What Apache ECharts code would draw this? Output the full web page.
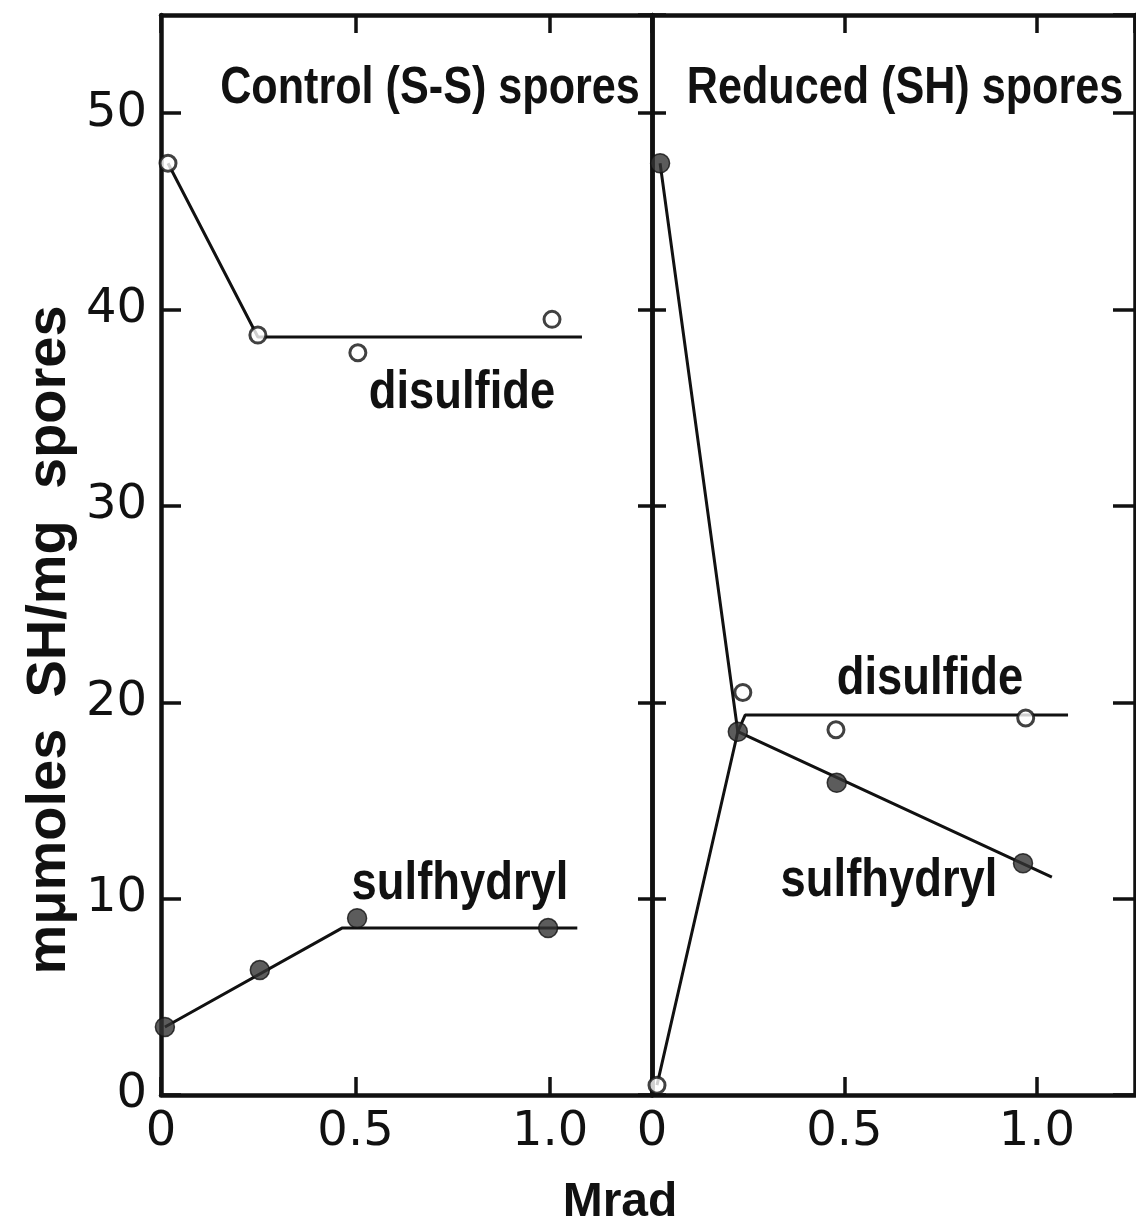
<!DOCTYPE html>
<html>
<head>
<meta charset="utf-8">
<script src="https://cdn.jsdelivr.net/npm/echarts@6/dist/echarts.min.js"></script>
<style>
  html, body { margin: 0; padding: 0; background: #fff; }
  #chart { width: 1136px; height: 1224px; }
</style>
</head>
<body>
<div id="chart"></div>
<script>
// values (dose in Mrad, mumoles SH / mg spores)
// left panel: control (S-S) spores
const ctrlDisDose = [0.018, 0.249, 0.506, 1.005];
const ctrlDisVal = [47.45, 38.7, 37.8, 39.5];
const ctrlDisFitDose = [0.018, 0.249, 1.082];
const ctrlDisFitVal = [47.45, 38.6, 38.6];
const ctrlShDose = [0.01, 0.254, 0.504, 0.995];
const ctrlShVal = [3.46, 6.36, 9.0, 8.5];
const ctrlShFitDose = [0.01, 0.465, 1.07];
const ctrlShFitVal = [3.46, 8.5, 8.5];

// right panel: reduced (SH) spores
const redShDose = [0.021, 0.223, 0.48, 0.964];
const redShVal = [47.45, 18.5, 15.9, 11.8];
const redShFitDose = [0.021, 0.223, 1.039];
const redShFitVal = [47.45, 18.5, 11.1];
const redDisDose = [0.013, 0.236, 0.478, 0.971];
const redDisVal = [0.5, 20.5, 18.6, 19.2];
const redDisFitDose = [0.013, 0.223, 0.242, 1.081];
const redDisFitVal = [0.5, 18.5, 19.35, 19.35];

const xTicks = [0, 0.5, 1.0];
const yTicks = [0, 10, 20, 30, 40, 50];

const ink = '#111';
const numFont = 'DejaVu Sans';
const txtFont = 'Liberation Sans';

const zip = (xs, ys) => xs.map((x, i) => [x, ys[i]]);

const xFmt = v => xTicks.indexOf(+v.toFixed(3)) >= 0 ? (v === 0 ? '0' : v.toFixed(1)) : '';
const yFmt = v => yTicks.indexOf(v) >= 0 ? String(v) : '';

function xAx(grid, max, pos, labels) {
  return {
    type: 'value', gridIndex: grid, min: 0, max: max, interval: 0.5, position: pos,
    axisLine: { show: true, onZero: false, lineStyle: { color: ink, width: 4.5 } },
    axisTick: { show: true, inside: true, length: 18, lineStyle: { color: ink, width: 3.5 } },
    axisLabel: { show: labels, formatter: xFmt, color: ink, fontFamily: numFont, fontSize: 48, margin: 14,
      showMaxLabel: false },
    splitLine: { show: false }
  };
}
function yAx(grid, pos, tickLen, labels) {
  return {
    type: 'value', gridIndex: grid, min: 0, max: 55, interval: 10, position: pos,
    axisLine: { show: true, onZero: false, lineStyle: { color: ink, width: 4.5 } },
    axisTick: { show: true, inside: true, length: tickLen, lineStyle: { color: ink, width: 3.5 } },
    axisLabel: { show: labels, formatter: yFmt, color: ink, fontFamily: numFont, fontSize: 48, margin: 14,
      showMaxLabel: false },
    splitLine: { show: false }
  };
}

function fit(xi, yi, xs, ys) {
  return { type: 'line', xAxisIndex: xi, yAxisIndex: yi, data: zip(xs, ys), symbol: 'none',
    lineStyle: { color: ink, width: 3 }, z: 2, animation: false };
}
function openPts(xi, yi, xs, ys) {
  return { type: 'scatter', xAxisIndex: xi, yAxisIndex: yi, data: zip(xs, ys), symbol: 'circle', symbolSize: 16,
    itemStyle: { color: '#fff', borderColor: ink, borderWidth: 3 }, z: 3, animation: false };
}
function fullPts(xi, yi, xs, ys) {
  return { type: 'scatter', xAxisIndex: xi, yAxisIndex: yi, data: zip(xs, ys), symbol: 'circle', symbolSize: 19,
    itemStyle: { color: '#333', borderColor: ink, borderWidth: 1.5 }, z: 3, animation: false };
}

function label(text, x, y, size, sx, rot) {
  return { type: 'text', x: x, y: y, rotation: rot || 0, scaleX: sx, z: 10,
    style: { text: text, fill: ink, font: 'bold ' + size + 'px "' + txtFont + '"',
      textAlign: 'center', textVerticalAlign: 'middle' } };
}

const chart = echarts.init(document.getElementById('chart'));
const option = {
  backgroundColor: '#fff',
  animation: false,
  grid: [
    { left: 161, top: 15, width: 491, height: 1080 },
    { left: 652, top: 15, width: 483, height: 1080 }
  ],
  xAxis: [
    xAx(0, 1.262, 'bottom', true),
    xAx(1, 1.255, 'bottom', true),
    xAx(0, 1.262, 'top', false),
    xAx(1, 1.255, 'top', false)
  ],
  yAxis: [
    yAx(0, 'left', 20, true),
    yAx(0, 'right', 14, false),
    yAx(1, 'left', 14, false),
    yAx(1, 'right', 22, false)
  ],
  series: [
    fit(0, 0, ctrlDisFitDose, ctrlDisFitVal),
    fit(0, 0, ctrlShFitDose, ctrlShFitVal),
    openPts(0, 0, ctrlDisDose, ctrlDisVal),
    fullPts(0, 0, ctrlShDose, ctrlShVal),
    fit(1, 2, redShFitDose, redShFitVal),
    fit(1, 2, redDisFitDose, redDisFitVal),
    openPts(1, 2, redDisDose, redDisVal),
    fullPts(1, 2, redShDose, redShVal)
  ],
  graphic: [
    label('Control (S-S) spores', 430, 89, 52, 0.83),
    label('Reduced (SH) spores', 905, 89, 52, 0.83),
    label('disulfide', 462, 393, 54, 0.84),
    label('sulfhydryl', 460, 884, 54, 0.84),
    label('disulfide', 930, 679, 54, 0.84),
    label('sulfhydryl', 889, 881, 54, 0.84),
    label('Mrad', 620, 1203, 48, 1),
    label('m\u03bcmoles  SH/mg  spores', 50, 640, 56, 1, Math.PI / 2)
  ]
};
option && chart.setOption(option);
</script>
</body>
</html>
